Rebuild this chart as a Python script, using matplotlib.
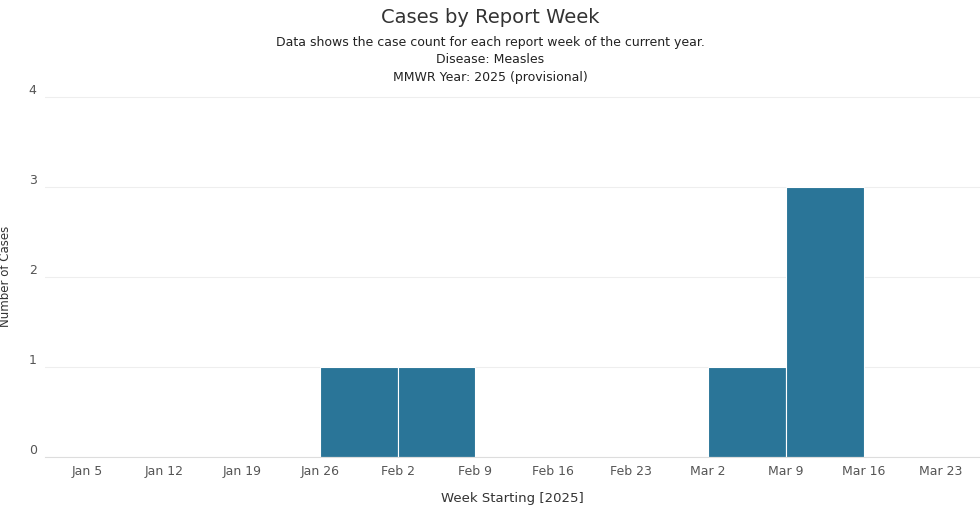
import matplotlib.pyplot as plt
import numpy as np

weeks = ["Jan 5", "Jan 12", "Jan 19", "Jan 26", "Feb 2", "Feb 9",
         "Feb 16", "Feb 23", "Mar 2", "Mar 9", "Mar 16", "Mar 23"]
cases = [0, 0, 0, 1, 1, 0, 0, 0, 1, 3, 0, 0]

plt.rcParams["font.family"] = "DejaVu Sans"
fig = plt.figure(figsize=(9.8, 5.08), dpi=100)
ax = fig.add_axes([45 / 980, 51 / 508, 935 / 980, 362 / 508])

x = np.arange(len(weeks))
ax.bar(x, cases, width=1.0, align="edge", color="#2a7598",
       edgecolor="white", linewidth=0.8)

ax.set_xlim(-0.54, 11.5)
ax.set_ylim(0, 4.02)
ax.set_xticks(x)
ax.set_xticklabels(weeks, fontsize=9, color="#555555")
ax.set_yticks([0, 1, 2, 3, 4])
ax.set_yticklabels(["0", "1", "2", "3", "4"], fontsize=9, color="#555555",
                   va="bottom")
ax.tick_params(length=0, pad=6)
ax.grid(axis="y", color="#eeeeee", linewidth=0.8)
ax.set_axisbelow(True)
for s in ["top", "right", "left"]:
    ax.spines[s].set_visible(False)
ax.spines["bottom"].set_color("#dddddd")

ax.set_xlabel("Week Starting [2025]", fontsize=9.5, color="#333333", labelpad=10)
ax.set_ylabel("Number of Cases", fontsize=8.5, color="#333333", labelpad=12)

fig.text(0.5, 0.965, "Cases by Report Week", ha="center", va="center",
         fontsize=14, color="#333333")
fig.text(0.5, 0.917, "Data shows the case count for each report week of the current year.",
         ha="center", va="center", fontsize=9, color="#222222")
fig.text(0.5, 0.883, "Disease: Measles", ha="center", va="center",
         fontsize=9, color="#222222")
fig.text(0.5, 0.847, "MMWR Year: 2025 (provisional)", ha="center", va="center",
         fontsize=9, color="#222222")

fig.savefig("out.png", dpi=100)
